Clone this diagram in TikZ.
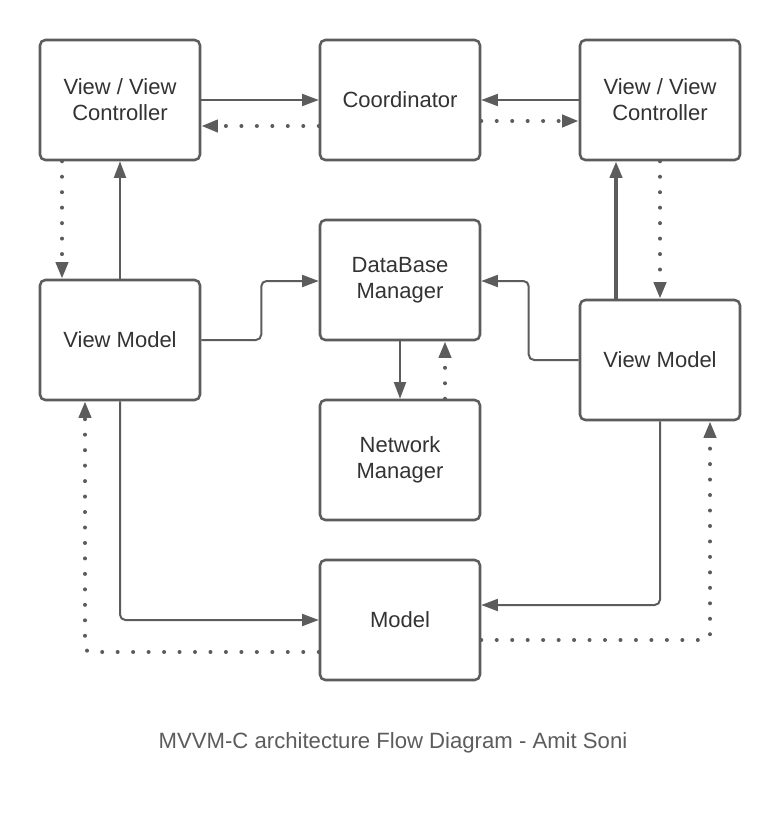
\documentclass[tikz,border=0pt]{standalone}
\usepackage{fontspec}
\setmainfont{Liberation Sans}
\usetikzlibrary{arrows.meta,calc}
\definecolor{ln}{HTML}{5C5C5C}
\definecolor{tx}{HTML}{333333}
\tikzset{
  box/.style={draw=ln, line width=1.9pt, rounded corners=4pt, minimum width=120pt, minimum height=90pt, align=center, text=tx, font=\fontsize{16.5}{19.5}\selectfont, inner sep=0pt},
  sarrow/.style={draw=ln, line width=1.5pt, rounded corners=4pt, -{Triangle[length=12.5pt,width=9pt]}},
  tarrow/.style={draw=ln, line width=3pt, -{Triangle[length=12.5pt,width=9pt]}},
  darrow/.style={draw=ln, line width=3pt, line cap=round, dash pattern=on 0pt off 11.6pt, rounded corners=4pt, -{Triangle[length=12.5pt,width=9pt,line cap=butt]}},
}
\begin{document}
\begin{tikzpicture}[x=0.75pt,y=-0.75pt]
\useasboundingbox (0,0) rectangle (780,838);
\fill[white] (0,0) rectangle (780,838);
\node[box] (vvcl) at (120,100) {View / View\\Controller};
\node[box] (coord) at (400,100) {Coordinator};
\node[box] (vvcr) at (660,100) {View / View\\Controller};
\node[box] (db) at (400,280) {DataBase\\Manager};
\node[box] (vml) at (120,340) {View Model};
\node[box] (vmr) at (660,360) {View Model};
\node[box] (nm) at (400,460) {Network\\Manager};
\node[box] (model) at (400,620) {Model};
\node[text=ln, font=\fontsize{16.6}{19}\selectfont] (cap) at (393,743) {MVVM-C architecture Flow Diagram - Amit Soni};

\draw[sarrow] (vvcl.east) -- (coord.west);
\draw[darrow] ($(coord.west)+(0,26)$) -- ($(vvcl.east)+(0,26)$);
\draw[sarrow] (vvcr.west) -- (coord.east);
\draw[darrow] ($(coord.east)+(0,21)$) -- ($(vvcr.west)+(0,21)$);

\draw[darrow] ($(vvcl.south)+(-58,0)$) -- ($(vml.north)+(-58,0)$);
\draw[sarrow] (vml.north) -- (vvcl.south);
\draw[darrow] (vvcr.south) -- (vmr.north);
\draw[tarrow] ($(vmr.north)+(-44,0)$) -- ($(vvcr.south)+(-44,0)$);

\draw[sarrow] (vml.east) -- ++(60,0) |- ($(db.west)+(0,1)$);
\draw[sarrow] (vmr.west) -- ++(-50,0) |- ($(db.east)+(0,1)$);
\draw[sarrow] (db.south) -- (nm.north);
\draw[darrow] ($(nm.north)+(45,0)$) -- ($(db.south)+(45,0)$);

\draw[sarrow] (vml.south) |- (model.west);
\draw[sarrow] (vmr.south) |- ($(model.east)+(0,-15)$);
\draw[darrow] ($(model.west)+(0,32)$) -| ($(vml.south)+(-35,0)$);
\draw[darrow] ($(model.east)+(0,20)$) -| ($(vmr.south)+(50,0)$);
\end{tikzpicture}
\end{document}
